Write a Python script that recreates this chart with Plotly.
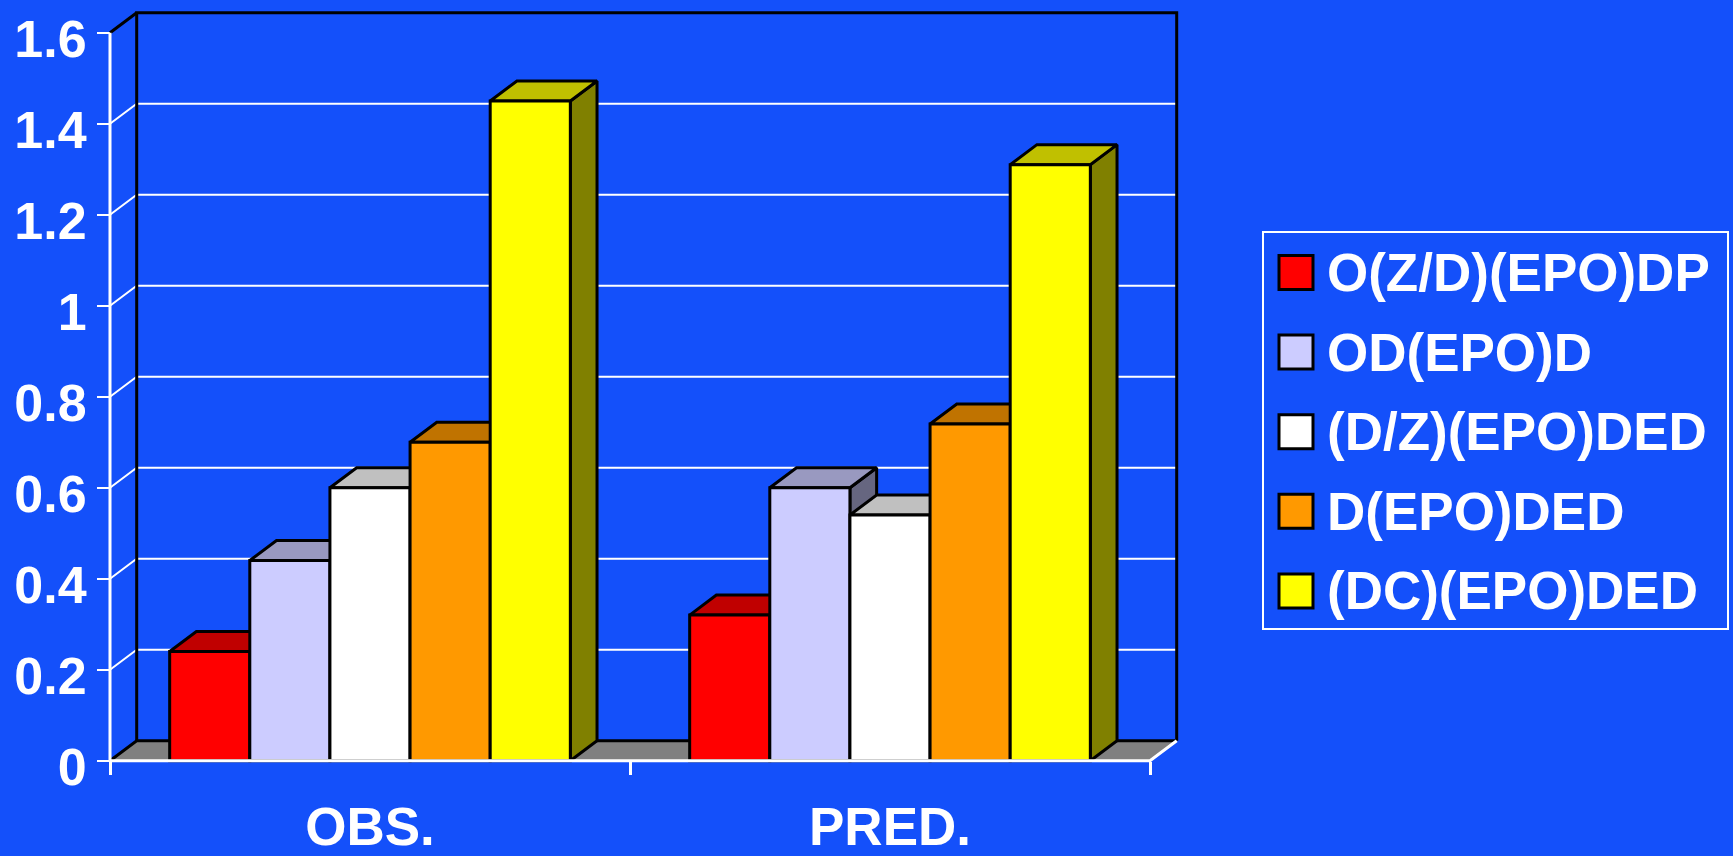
import plotly.graph_objects as go

# ---------------- data ----------------
categories = ["OBS.", "PRED."]
series_names = ["O(Z/D)(EPO)DP", "OD(EPO)D", "(D/Z)(EPO)DED", "D(EPO)DED", "(DC)(EPO)DED"]
obs_values = [0.24, 0.44, 0.60, 0.70, 1.45]
pred_values = [0.32, 0.60, 0.54, 0.74, 1.31]
tick_values = [0, 0.2, 0.4, 0.6, 0.8, 1.0, 1.2, 1.4, 1.6]
tick_labels = ["0", "0.2", "0.4", "0.6", "0.8", "1", "1.2", "1.4", "1.6"]

front_colors = ["#FF0000", "#CCCCFF", "#FFFFFF", "#FF9900", "#FFFF00"]
top_colors = ["#C00000", "#9999C0", "#C0C0C0", "#C07300", "#C0C000"]
side_colors = ["#800000", "#666680", "#808080", "#804D00", "#808000"]

BG = "#1450FA"
FONT = "Liberation Sans"

# ---------------- geometry ----------------
W, H = 1733, 856
PX0, KX = 110.0, 520.0      # pixel of x=-0.5, px per category unit
PY0, KY = 760.7, 455.0      # pixel of y=0, px per value unit
DX = 26.7 / KX               # depth offset in data units
DY = 20.0 / KY

def px_to_x(px):
    return -0.5 + (px - PX0) / KX

def py_to_y(py):
    return (PY0 - py) / KY

L_PX, R_PX, T_PX, B_PX = 100, 1192, 4, 778
xrange_ = [px_to_x(L_PX), px_to_x(R_PX)]
yrange_ = [py_to_y(B_PX), py_to_y(T_PX)]

GROUP = 0.7705
BW = GROUP / len(series_names)
xl, xr = -0.5, len(categories) - 0.5
ytop = tick_values[-1]

fig = go.Figure()

def poly_trace(xs, ys, fill, line_color, line_width, z):
    return go.Scatter(x=xs, y=ys, mode="lines", fill="toself" if fill else None,
                      fillcolor=fill, line=dict(color=line_color, width=line_width),
                      hoverinfo="skip", showlegend=False, zorder=z)

# floor
fig.add_trace(poly_trace([xl, xr, xr + DX, xl + DX, xl], [0, 0, DY, DY, 0],
                         "#808080", "rgba(0,0,0,0)", 0, 0))

# gridlines on back wall + side wall
gx, gy = [], []
for v in tick_values[1:-1]:
    gx += [xl, xl + DX, xr + DX, None]
    gy += [v, v + DY, v + DY, None]
fig.add_trace(go.Scatter(x=gx, y=gy, mode="lines", line=dict(color="white", width=2),
                         hoverinfo="skip", showlegend=False, zorder=1))

# black wall edges
bx = [xl, xl + DX, xr + DX, None, xl + DX, xl + DX, xr + DX, xr + DX, None, xl, xl + DX]
by = [0, DY, DY, None, DY, ytop + DY, ytop + DY, DY, None, ytop, ytop + DY]
fig.add_trace(go.Scatter(x=bx, y=by, mode="lines", line=dict(color="black", width=3),
                         hoverinfo="skip", showlegend=False, zorder=1))

values_by_cat = [obs_values, pred_values]

# side faces and top faces
for i, name in enumerate(series_names):
    sx, sy, tx, ty = [], [], [], []
    for c, vals in enumerate(values_by_cat):
        h = vals[i]
        x0 = c - GROUP / 2 + i * BW
        x1 = x0 + BW
        sx += [x1, x1, x1 + DX, x1 + DX, x1, None]
        sy += [0, h, h + DY, DY, 0, None]
        tx += [x0, x1, x1 + DX, x0 + DX, x0, None]
        ty += [h, h, h + DY, h + DY, h, None]
    fig.add_trace(poly_trace(sx, sy, side_colors[i], "black", 3, 2))
    fig.add_trace(poly_trace(tx, ty, top_colors[i], "black", 3, 3))

# front faces
for i, name in enumerate(series_names):
    fig.add_trace(go.Bar(
        x=list(range(len(categories))), y=[vals[i] for vals in values_by_cat],
        width=BW, offset=-GROUP / 2 + i * BW, name=name,
        marker=dict(color=front_colors[i], line=dict(color="black", width=3)),
        showlegend=False, zorder=4))

# white front axis lines (front floor edge, right floor edge, front y axis)
fig.add_trace(go.Scatter(x=[xr + DX, xr, xl, None, xl, xl],
                         y=[DY, 0, 0, None, 0, ytop], mode="lines",
                         line=dict(color="white", width=3),
                         hoverinfo="skip", showlegend=False, zorder=5))

tickfont = dict(family=FONT, size=52, color="white", weight="bold")

fig.update_layout(
    width=W, height=H,
    margin=dict(l=0, r=0, t=0, b=0, autoexpand=False),
    paper_bgcolor=BG, plot_bgcolor=BG,
    barmode="overlay",
    showlegend=False,
    xaxis=dict(domain=[L_PX / W, R_PX / W], range=xrange_, showgrid=False, zeroline=False,
               showline=False, tickmode="array", tickvals=list(range(len(categories))),
               ticktext=categories, ticks="", tickfont=dict(family=FONT, size=53, color="white", weight="bold"),
               anchor="free", position=1 - PY0 / H, ticklabelstandoff=30, automargin=False,
               minor=dict(tickmode="array", tickvals=[c - 0.5 for c in range(len(categories) + 1)],
                          ticks="outside", ticklen=13, tickwidth=3, tickcolor="white", showgrid=False)),
    yaxis=dict(domain=[1 - B_PX / H, 1 - T_PX / H], range=yrange_, showgrid=False, zeroline=False,
               showline=False, tickmode="array", tickvals=tick_values, ticktext=tick_labels,
               ticks="outside", ticklen=13, tickwidth=2, tickcolor="white", tickfont=tickfont,
               anchor="free", position=PX0 / W, ticklabelshift=6, ticklabeloverflow="allow",
               automargin=False),
)

# manual legend
LEG_X0, LEG_Y0, LEG_X1, LEG_Y1 = 1263, 232, 1728, 629
fig.add_shape(type="rect", xref="paper", yref="paper",
              x0=LEG_X0 / W, x1=LEG_X1 / W, y0=1 - LEG_Y1 / H, y1=1 - LEG_Y0 / H,
              line=dict(color="white", width=2), fillcolor="rgba(0,0,0,0)")
for i, name in enumerate(series_names):
    cy = 272.5 + i * 79.6
    fig.add_shape(type="rect", xref="paper", yref="paper",
                  x0=1279 / W, x1=1313 / W, y0=1 - (cy + 17) / H, y1=1 - (cy - 17) / H,
                  line=dict(color="black", width=3), fillcolor=front_colors[i])
    fig.add_annotation(xref="paper", yref="paper", x=1325 / W, y=1 - cy / H,
                       xanchor="left", yanchor="middle", text=name, showarrow=False,
                       font=dict(family=FONT, size=53, color="white", weight="bold"))

fig.write_html("out.html")
